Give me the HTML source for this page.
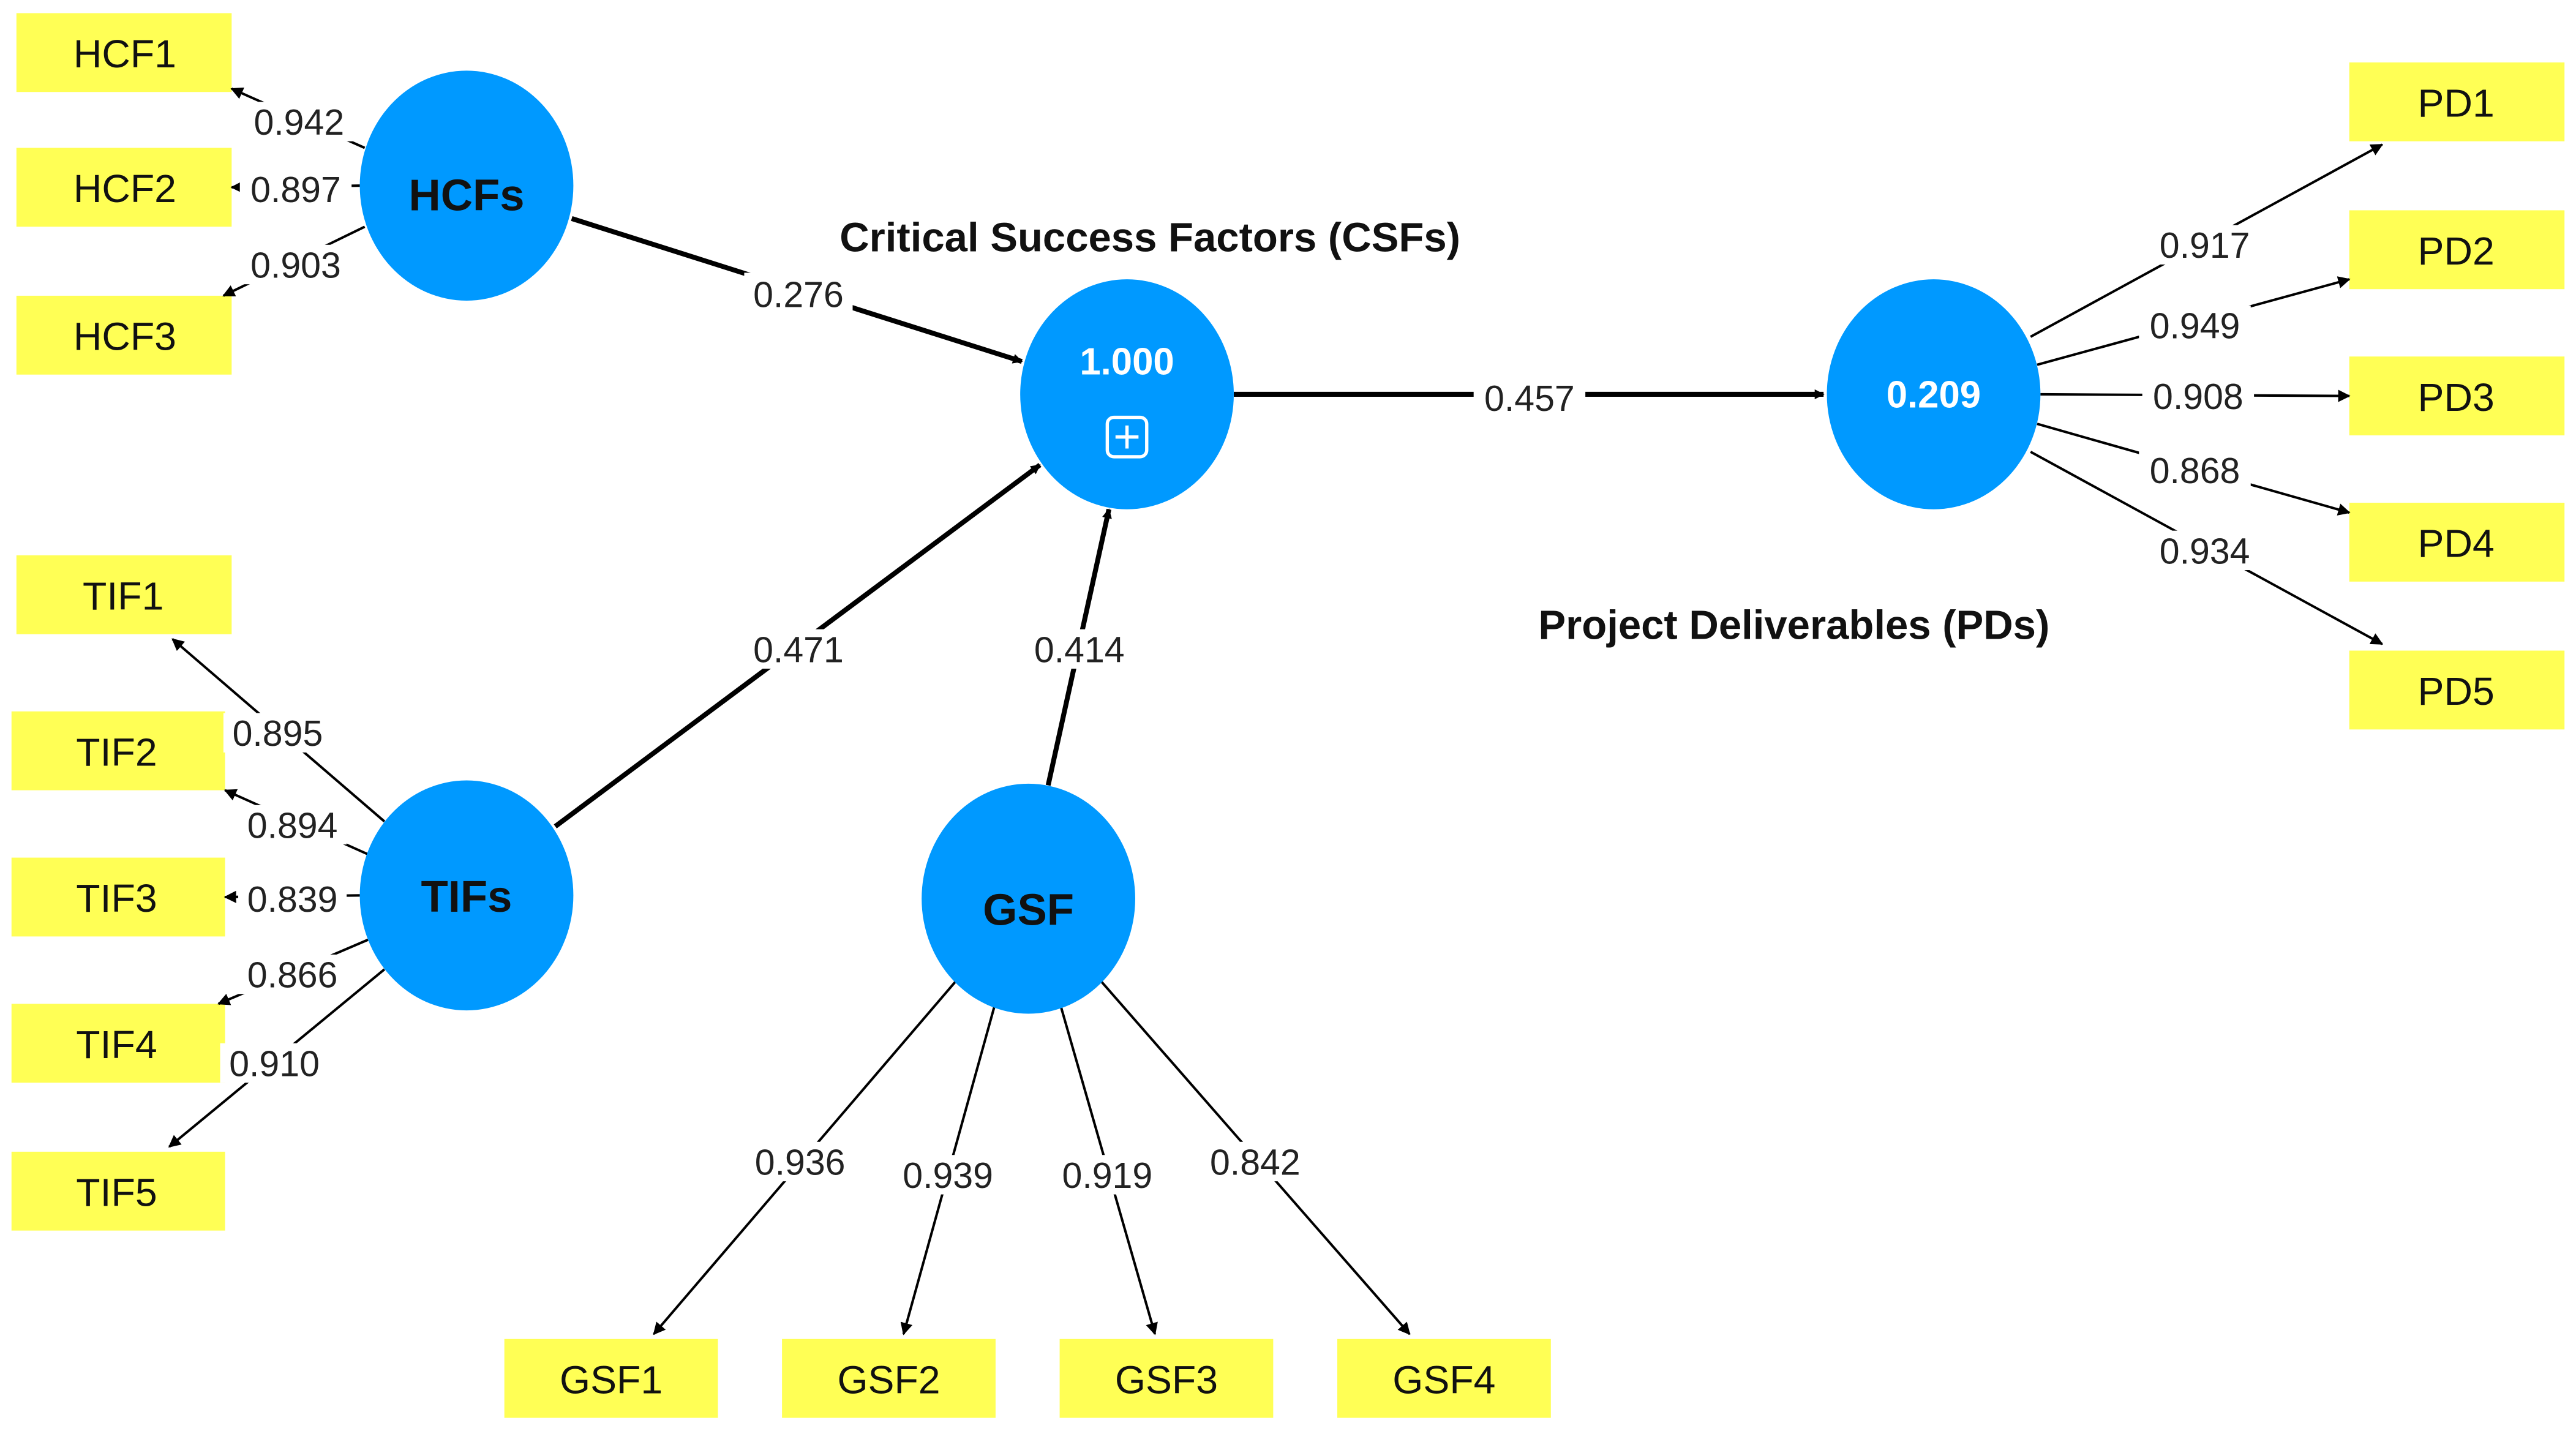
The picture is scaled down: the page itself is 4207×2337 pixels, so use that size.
<!DOCTYPE html>
<html><head><meta charset="utf-8"><style>html,body{margin:0;padding:0;background:#fff}svg{display:block}</style></head>
<body>
<svg width="4207" height="2337" viewBox="0 0 1568 871" preserveAspectRatio="none" xmlns="http://www.w3.org/2000/svg" font-family="Liberation Sans, DejaVu Sans, sans-serif">
<defs>
<marker id="a" viewBox="0 0 10 10" refX="9" refY="5" markerWidth="6" markerHeight="6" orient="auto" markerUnits="userSpaceOnUse"><path d="M0,0 L10,5 L0,10 z" fill="#000"/></marker>
<marker id="b" viewBox="0 0 10 10" refX="9" refY="5" markerWidth="5" markerHeight="5" orient="auto"><path d="M0,0 L10,5 L0,10 z" fill="#000"/></marker>
</defs>
<g fill="#ffff55">
<rect x="10" y="8" width="131" height="48"/><rect x="10" y="90" width="131" height="48"/><rect x="10" y="180" width="131" height="48"/>
<rect x="10" y="338" width="131" height="48"/><rect x="7" y="433" width="130" height="48"/><rect x="7" y="522" width="130" height="48"/><rect x="7" y="611" width="130" height="48"/><rect x="7" y="701" width="130" height="48"/>
<rect x="1430" y="38" width="131" height="48"/><rect x="1430" y="128" width="131" height="48"/><rect x="1430" y="217" width="131" height="48"/><rect x="1430" y="306" width="131" height="48"/><rect x="1430" y="396" width="131" height="48"/>
<rect x="307" y="815" width="130" height="48"/><rect x="476" y="815" width="130" height="48"/><rect x="645" y="815" width="130" height="48"/><rect x="814" y="815" width="130" height="48"/>
</g>
<g font-size="24" text-anchor="middle" fill="#111">
<text x="76" y="41">HCF1</text><text x="76" y="123">HCF2</text><text x="76" y="213">HCF3</text>
<text x="75" y="371">TIF1</text><text x="71" y="466">TIF2</text><text x="71" y="555">TIF3</text><text x="71" y="644">TIF4</text><text x="71" y="734">TIF5</text>
<text x="1495" y="71">PD1</text><text x="1495" y="161">PD2</text><text x="1495" y="250">PD3</text><text x="1495" y="339">PD4</text><text x="1495" y="429">PD5</text>
<text x="372" y="848">GSF1</text><text x="541" y="848">GSF2</text><text x="710" y="848">GSF3</text><text x="879" y="848">GSF4</text>
</g>
<g stroke="#000" stroke-width="1.5" fill="none" marker-end="url(#b)">
<line x1="222" y1="90" x2="141" y2="54"/><line x1="219" y1="113" x2="141" y2="114"/><line x1="222" y1="138" x2="136" y2="180"/>
<line x1="234" y1="500" x2="105" y2="389"/><line x1="224" y1="520" x2="137" y2="481"/><line x1="219" y1="545" x2="137" y2="546"/><line x1="224" y1="572" x2="133" y2="611"/><line x1="234" y1="590" x2="103" y2="698"/>
<line x1="1236" y1="205" x2="1450" y2="88"/><line x1="1240" y1="222" x2="1430" y2="170"/><line x1="1242" y1="240" x2="1430" y2="241"/><line x1="1240" y1="258" x2="1430" y2="312"/><line x1="1236" y1="275" x2="1450" y2="392"/>
<line x1="582" y1="597" x2="398" y2="812"/><line x1="606" y1="610" x2="550" y2="812"/><line x1="645" y1="610" x2="703" y2="812"/><line x1="670" y1="597" x2="858" y2="812"/>
</g>
<g stroke="#000" stroke-width="3" fill="none" marker-end="url(#a)">
<line x1="348" y1="133" x2="622" y2="220"/><line x1="338" y1="503" x2="633" y2="283"/><line x1="638" y1="478" x2="675" y2="310"/><line x1="751" y1="240" x2="1110" y2="240"/>
</g>
<g fill="#0099ff">
<ellipse cx="284" cy="113" rx="65" ry="70"/><ellipse cx="686" cy="240" rx="65" ry="70"/><ellipse cx="1177" cy="240" rx="65" ry="70"/><ellipse cx="284" cy="545" rx="65" ry="70"/><ellipse cx="626" cy="547" rx="65" ry="70"/>
</g>
<g font-weight="bold" text-anchor="middle">
<text x="284" y="128" font-size="27" fill="#111">HCFs</text><text x="284" y="555" font-size="27" fill="#111">TIFs</text><text x="626" y="563" font-size="27" fill="#111">GSF</text>
<text x="686" y="228" font-size="23" fill="#fff">1.000</text><text x="1177" y="248" font-size="23" fill="#fff">0.209</text>
<text x="700" y="153" font-size="25" fill="#111">Critical Success Factors (CSFs)</text>
<text x="1092" y="389" font-size="25" fill="#111">Project Deliverables (PDs)</text>
</g>
<rect x="674" y="254" width="24" height="24" rx="4" fill="none" stroke="#fff" stroke-width="2"/>
<path d="M686 259v14M679 266h14" stroke="#fff" stroke-width="2"/>
<g font-size="22" text-anchor="middle" fill="#222">
<g fill="#fff"><rect x="148" y="62" width="68" height="24"/><rect x="146" y="103" width="68" height="24"/><rect x="146" y="149" width="68" height="24"/>
<rect x="453" y="166" width="66" height="24"/><rect x="453" y="383" width="66" height="24"/><rect x="624" y="383" width="66" height="24"/><rect x="897" y="229" width="68" height="24"/>
<rect x="136" y="434" width="66" height="24"/><rect x="145" y="490" width="66" height="24"/><rect x="145" y="535" width="66" height="24"/><rect x="145" y="581" width="66" height="24"/><rect x="134" y="635" width="66" height="24"/>
<rect x="1308" y="137" width="68" height="24"/><rect x="1302" y="186" width="68" height="24"/><rect x="1304" y="229" width="68" height="24"/><rect x="1302" y="274" width="68" height="24"/><rect x="1308" y="323" width="68" height="24"/>
<rect x="454" y="695" width="66" height="24"/><rect x="544" y="703" width="66" height="24"/><rect x="641" y="703" width="66" height="24"/><rect x="731" y="695" width="66" height="24"/></g>
<text x="182" y="82">0.942</text><text x="180" y="123">0.897</text><text x="180" y="169">0.903</text>
<text x="486" y="187">0.276</text><text x="486" y="403">0.471</text><text x="657" y="403">0.414</text><text x="931" y="250">0.457</text>
<text x="169" y="454">0.895</text><text x="178" y="510">0.894</text><text x="178" y="555">0.839</text><text x="178" y="601">0.866</text><text x="167" y="655">0.910</text>
<text x="1342" y="157">0.917</text><text x="1336" y="206">0.949</text><text x="1338" y="249">0.908</text><text x="1336" y="294">0.868</text><text x="1342" y="343">0.934</text>
<text x="487" y="715">0.936</text><text x="577" y="723">0.939</text><text x="674" y="723">0.919</text><text x="764" y="715">0.842</text>
</g>
</svg>
</body></html>
